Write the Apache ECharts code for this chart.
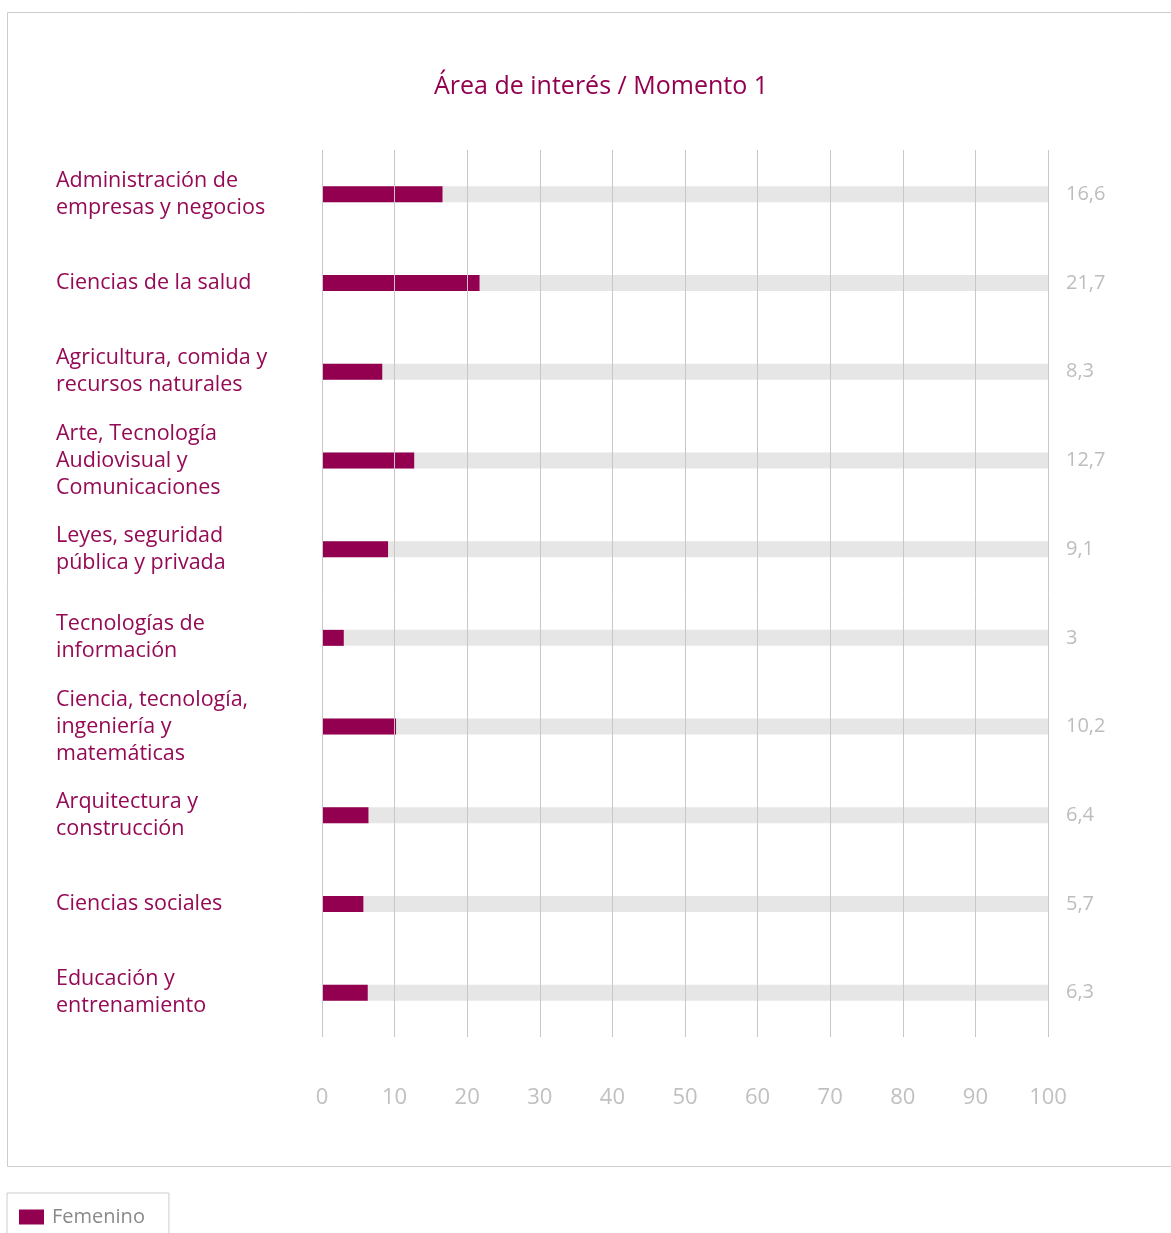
<!DOCTYPE html>
<html>
<head>
<meta charset="utf-8">
<script src="https://cdn.jsdelivr.net/npm/echarts@6/dist/echarts.min.js"></script>
<style>
html,body{margin:0;padding:0;background:#fff;}
#chart{width:1171px;height:1233px;}
</style>
</head>
<body>
<div id="chart"></div>
<script>
const categories = [
  'Administración de\nempresas y negocios',
  'Ciencias de la salud',
  'Agricultura, comida y\nrecursos naturales',
  'Arte, Tecnología\nAudiovisual y\nComunicaciones',
  'Leyes, seguridad\npública y privada',
  'Tecnologías de\ninformación',
  'Ciencia, tecnología,\ningeniería y\nmatemáticas',
  'Arquitectura y\nconstrucción',
  'Ciencias sociales',
  'Educación y\nentrenamiento'
];
const femenino = [16.6, 21.7, 8.3, 12.7, 9.1, 3, 10.2, 6.4, 5.7, 6.3];
const xTicks = [0, 10, 20, 30, 40, 50, 60, 70, 80, 90, 100];

const FONT = "'Open Sans', sans-serif";
const PURPLE = '#930050';
const chart = echarts.init(document.getElementById('chart'), null, {renderer: 'canvas'});
chart.setOption({
  animation: false,
  textStyle: {fontFamily: FONT},
  title: {
    text: 'Área de interés / Momento 1',
    left: 596, top: 69, textAlign: 'center',
    textStyle: {color: PURPLE, fontSize: 25, fontWeight: 'normal', fontFamily: FONT}
  },
  graphic: [{
    type: 'rect', silent: true, z: -10,
    shape: {x: 7.5, y: 12.5, width: 1180, height: 1154},
    style: {fill: 'none', stroke: '#cccccc', lineWidth: 1}
  }],
  legend: {
    data: ['Femenino'],
    left: 7, top: 1193,
    orient: 'horizontal',
    padding: [14, 24, 14, 12],
    borderColor: '#cccccc', borderWidth: 1,
    itemWidth: 25, itemHeight: 15, itemGap: 8,
    icon: 'rect',
    textStyle: {color: '#8a8a8a', fontSize: 20, fontFamily: FONT, padding: [0, 0, 0, 3]}
  },
  grid: {left: 322, right: 123, top: 150, bottom: 196, containLabel: false},
  xAxis: {
    type: 'value', min: xTicks[0], max: xTicks[xTicks.length - 1], interval: 10,
    z: 5,
    axisLine: {show: false}, axisTick: {show: false},
    splitLine: {show: true, lineStyle: {color: '#c8c8c8', width: 1}},
    axisLabel: {color: '#c0c0c0', fontSize: 22, margin: 50, fontFamily: FONT}
  },
  yAxis: [{
    type: 'category', data: categories, inverse: true,
    axisLine: {show: false}, axisTick: {show: false},
    axisLabel: {align: 'left', margin: 266, color: '#950a55', fontSize: 21.5, lineHeight: 27, fontFamily: FONT}
  }, {
    type: 'category', position: 'right', inverse: true,
    data: femenino.map(v => String(v).replace('.', ',')),
    axisLine: {show: false}, axisTick: {show: false},
    axisLabel: {align: 'left', margin: 18, color: '#bdbdbd', fontSize: 20, fontFamily: FONT}
  }],
  series: [{
    name: 'Femenino', type: 'bar', yAxisIndex: 0,
    data: femenino, barWidth: 16,
    itemStyle: {color: PURPLE},
    showBackground: true,
    backgroundStyle: {color: '#e6e6e6'}
  }]
});
</script>
</body>
</html>
